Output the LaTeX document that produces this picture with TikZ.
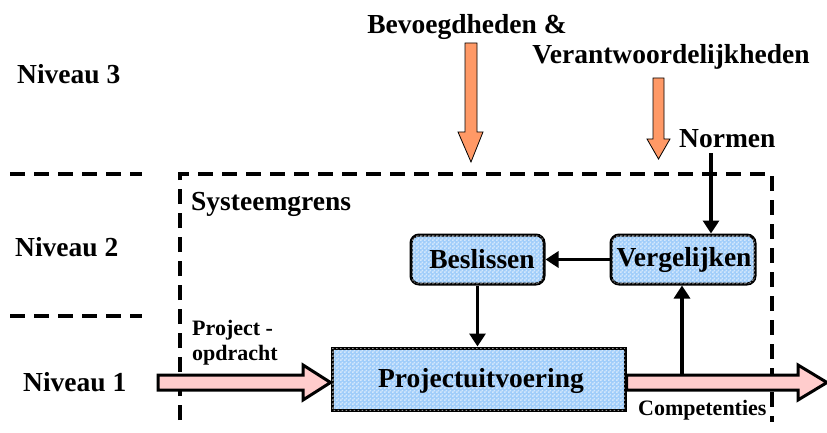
\documentclass[tikz,border=0pt]{standalone}
\usepackage{fontspec}
\setmainfont{Liberation Serif}
\usetikzlibrary{arrows.meta,patterns}
\definecolor{orangefill}{RGB}{255,153,102}
\definecolor{pinkfill}{RGB}{255,204,204}
\definecolor{boxblue}{RGB}{160,205,250}
% small checker used as texture on the process boxes
\pgfdeclarepatternformonly{smallcheck}{\pgfpointorigin}{\pgfpoint{4pt}{4pt}}{\pgfpoint{4pt}{4pt}}{%
  \pgfpathrectangle{\pgfpointorigin}{\pgfpoint{2pt}{2pt}}%
  \pgfpathrectangle{\pgfpoint{2pt}{2pt}}{\pgfpoint{2pt}{2pt}}%
  \pgfusepath{fill}}
\tikzset{
  big/.style={font=\bfseries\fontsize{27.5}{30}\selectfont, inner sep=0pt},
  small/.style={font=\bfseries\fontsize{22}{24}\selectfont, inner sep=0pt},
  process/.style={draw=black, line width=3pt, fill=boxblue, postaction={pattern=smallcheck, pattern color=white!100, opacity=0.55}, inner sep=0pt},
  roundbox/.style={process, rounded corners=8pt},
  flow/.style={draw=black, line width=3.2pt, -{Triangle[length=13pt,width=16pt]}},
  levelline/.style={line width=4pt, dash pattern=on 15pt off 9pt},
  bigarrow/.style={draw=black, line width=3pt, fill=pinkfill, line join=miter},
  inarrow/.style={draw=black, line width=0.8pt, fill=orangefill},
}
\begin{document}
\begin{tikzpicture}[x=1pt,y=-1pt]
\useasboundingbox (0,0) rectangle (827,433);

% level labels and separators
\node[big, anchor=base west] (n3) at (17,84) {Niveau 3};
\node[big, anchor=base west] (n2) at (15,256) {Niveau 2};
\node[big, anchor=base west] (n1) at (23,391) {Niveau 1};
\draw[levelline] (10,174) -- (142,174);
\draw[levelline] (10,316) -- (142,316);

% system boundary
\draw[levelline] (180,420) -- (180,174) -- (772,174) -- (772,422);
\node[big, anchor=base west] (grens) at (191,210) {Systeemgrens};

% inputs from level 3
\node[big, anchor=base] (bev) at (467,34) {Bevoegdheden \&};
\node[big, anchor=base] (ver) at (671,64) {Verantwoordelijkheden};
\draw[inarrow] (465,43) -- (477,43) -- (477,132) -- (483,132) -- (471,162) -- (458,132) -- (465,132) -- cycle;
\draw[inarrow] (653,78) -- (664,78) -- (664,139) -- (670,139) -- (658.5,159) -- (647,139) -- (653,139) -- cycle;
\node[big, anchor=base west] (normen) at (679,147) {Normen};

% main process boxes
\node[roundbox, minimum width=133pt, minimum height=49pt] (besl) at (477.5,259.5) {};
\node[big] at (482,259.5) {Beslissen};
\node[roundbox, minimum width=144pt, minimum height=49pt] (verg) at (683,259.5) {};
\node[big] at (684,259.5) {Vergelijken};
\node[process, minimum width=293pt, minimum height=62pt] (proj) at (478.5,379) {};
\node[big] at (481,381) {Projectuitvoering};

% wide flow arrows
\coordinate (inL) at (158,382.5);
\draw[bigarrow] (inL |- 0,375) -- (303,375) -- (303,365) -- (proj.west |- inL) -- (303,400) -- (303,390) -- (inL |- 0,390) -- cycle;
\coordinate (outR) at (827,382.5);
\draw[bigarrow] (proj.east |- 0,375) -- (798,375) -- (798,365) -- (outR) -- (798,400) -- (798,390) -- (proj.east |- 0,390) -- cycle;
\node[small, anchor=base west] (po1) at (192,335) {Project -};
\node[small, anchor=base west] (po2) at (192,360) {opdracht};
\node[small, anchor=base west] (comp) at (638,415) {Competenties};

% control loop
\coordinate (tap) at (682,375);
\coordinate (ntop) at (711,153);
\draw[flow] (ntop) -- (ntop |- verg.north);
\draw[flow] (tap) -- (tap |- verg.south);
\draw[flow] (verg.west) -- (besl.east);
\draw[flow] (besl.south) -- (besl.south |- proj.north);
\end{tikzpicture}
\end{document}
